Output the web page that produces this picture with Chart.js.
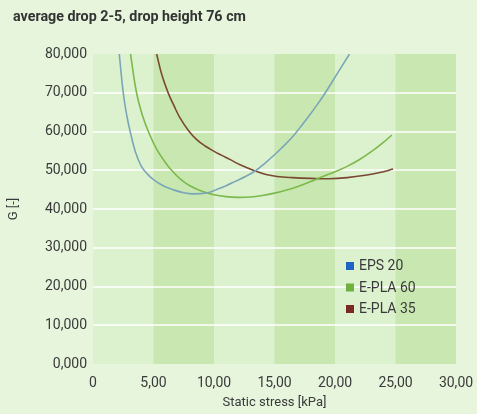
<!DOCTYPE html>
<html>
<head>
<meta charset="utf-8">
<script src="https://cdn.jsdelivr.net/npm/chart.js@4/dist/chart.umd.min.js"></script>
<style>
html,body{margin:0;padding:0;background:#e7f5dd;}
#wrap{width:477px;height:414px;position:relative;}
</style>
</head>
<body>
<div id="wrap"><canvas id="c" width="477" height="414"></canvas></div>
<script>
// ---- data ----
const chartTitle = 'average drop 2-5, drop height 76 cm';
const xAxisTitle = 'Static stress [kPa]';
const yAxisTitle = 'G [-]';
const seriesNames = ['EPS 20', 'E-PLA 60', 'E-PLA 35'];

const eps20X = [2.17, 2.5, 2.8, 3.1, 3.5, 4.0, 4.5, 5.0, 5.8, 6.6, 7.5, 8.3, 9.5, 10.2, 11.0, 11.8, 12.6, 13.4, 14.2, 15.0, 15.7, 16.4, 17.1, 17.8, 18.5, 19.2, 20.2, 21.2];
const eps20Y = [80.0, 70.0, 64.0, 59.6, 54.8, 51.0, 49.0, 47.6, 46.0, 45.0, 44.2, 43.9, 44.2, 45.0, 46.0, 47.2, 48.4, 49.8, 51.8, 54.0, 56.1, 58.3, 61.0, 63.8, 66.8, 70.0, 75.0, 80.0];

const epla60X = [3.1, 3.6, 4.1, 4.6, 5.2, 5.8, 6.4, 7.2, 8.0, 9.0, 10.0, 11.0, 12.0, 13.0, 14.0, 15.0, 16.0, 17.0, 18.0, 19.0, 20.0, 21.0, 22.0, 23.0, 24.0, 24.7];
const epla60Y = [80.0, 70.0, 64.0, 59.8, 55.8, 52.8, 50.3, 47.8, 46.0, 44.6, 43.7, 43.2, 43.0, 43.1, 43.5, 44.1, 44.9, 45.9, 47.1, 48.4, 49.6, 51.0, 52.7, 54.8, 57.2, 59.1];

const epla35X = [5.26, 5.7, 6.22, 6.7, 7.19, 7.9, 8.57, 9.3, 9.94, 10.6, 11.3, 12.3, 13.4, 14.3, 15.2, 16.5, 18.0, 19.5, 21.0, 22.5, 23.7, 24.8];
const epla35Y = [80.0, 74.5, 69.9, 66.6, 63.5, 60.2, 57.9, 56.2, 55.0, 53.9, 52.8, 51.2, 49.8, 48.9, 48.4, 48.1, 47.9, 47.8, 48.1, 48.7, 49.4, 50.3];

const xTickLabels = ['0', '5,00', '10,00', '15,00', '20,00', '25,00', '30,00'];
const yTickLabels = ['0,000', '10,000', '20,000', '30,000', '40,000', '50,000', '60,000', '70,000', '80,000'];

// ---- styles ----
const lineColors = ['#7ba6b8', '#7cb94c', '#7a4832'];
const legendColors = ['#1f63c4', '#6fb23e', '#7b2a22'];
const bandRanges = [[5, 10], [15, 20], [25, 30]];

function pts(xs, ys) { return xs.map((x, i) => ({x: x, y: ys[i]})); }

const bgPlugin = {
  id: 'bg',
  beforeDraw(chart) {
    const {ctx, chartArea: a, scales: {x}} = chart;
    ctx.save();
    ctx.fillStyle = '#e7f5dd';
    ctx.fillRect(0, 0, chart.width, chart.height);
    ctx.fillStyle = '#dcf1cd';
    ctx.fillRect(a.left, a.top, a.right - a.left, a.bottom - a.top);
    ctx.fillStyle = '#c9e8b1';
    bandRanges.forEach(r => {
      const x0 = x.getPixelForValue(r[0]), x1 = x.getPixelForValue(r[1]);
      ctx.fillRect(x0, a.top, x1 - x0, a.bottom - a.top);
    });
    ctx.restore();
  },
  afterDraw(chart) {
    const {ctx} = chart;
    ctx.save();
    ctx.fillStyle = '#333333';
    ctx.font = 'bold 14.3px Roboto';
    ctx.textBaseline = 'middle';
    ctx.textAlign = 'left';
    ctx.fillText(chartTitle, 13, 17);
    // legend
    ctx.font = '14px Roboto';
    seriesNames.forEach((n, i) => {
      const y = 266 + i * 21.5;
      ctx.fillStyle = legendColors[i];
      ctx.fillRect(346, y - 4, 8, 8);
      ctx.fillStyle = '#3a3a3a';
      ctx.fillText(n, 359, y + 0.5);
    });
    ctx.restore();
  }
};

new Chart(document.getElementById('c'), {
  type: 'scatter',
  data: {
    datasets: seriesNames.map((n, i) => ({
      label: n,
      data: [pts(eps20X, eps20Y), pts(epla60X, epla60Y), pts(epla35X, epla35Y)][i],
      showLine: true,
      borderColor: lineColors[i],
      backgroundColor: lineColors[i],
      borderWidth: 1.6,
      pointRadius: 0,
      tension: 0.4
    }))
  },
  options: {
    responsive: false,
    animation: false,
    layout: {padding: {top: 54, right: 21, left: 0, bottom: 0}},
    plugins: {legend: {display: false}, tooltip: {enabled: false}},
    scales: {
      x: {
        type: 'linear', min: 0, max: 30,
        afterFit(s) { s.height = 50; },
        ticks: {stepSize: 5, padding: 3, color: '#3a3a3a', font: {family: 'Roboto', size: 14},
          callback: (v, i) => xTickLabels[i]},
        grid: {display: false},
        border: {display: false},
        title: {display: true, text: xAxisTitle, color: '#3a3a3a', font: {family: 'Roboto', size: 13}, padding: {top: 0, bottom: 3}}
      },
      y: {
        min: 0, max: 80,
        afterFit(s) { s.width = 93; },
        ticks: {stepSize: 10, padding: 6, color: '#3a3a3a', font: {family: 'Roboto', size: 14},
          callback: (v, i) => yTickLabels[i]},
        grid: {drawTicks: false, lineWidth: 2,
          color: c => (c.tick && (c.tick.value === 0 || c.tick.value === 80)) ? 'rgba(0,0,0,0)' : 'rgba(255,255,255,0.75)'},
        border: {display: false},
        title: {display: true, text: yAxisTitle, color: '#3a3a3a', font: {family: 'Roboto', size: 13}, padding: {top: 6, bottom: 0}}
      }
    }
  },
  plugins: [bgPlugin]
});
</script>
</body>
</html>
